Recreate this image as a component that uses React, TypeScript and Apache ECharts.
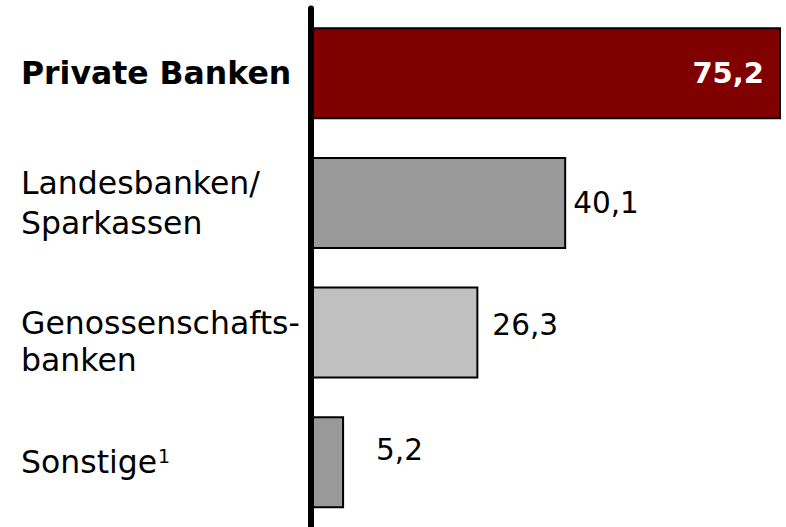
import React, { useEffect, useRef } from "react";
import * as echarts from "echarts";

const categories = [
  "Private Banken",
  "Landesbanken/\nSparkassen",
  "Genossenschafts-\nbanken",
  "Sonstige",
];
const footnoteMarks = ["", "", "", "1"];
const values = [75.2, 40.1, 26.3, 5.2];
const valueLabels = ["75,2", "40,1", "26,3", "5,2"];
const barColors = ["#800000", "#999999", "#c0c0c0", "#999999"];

export default function App() {
  const ref = useRef<HTMLDivElement>(null);
  useEffect(() => {
    if (!ref.current) return;
    const chart = echarts.init(ref.current, null, { renderer: "svg" });
    const labelDist = [0, 7, 14, 32];
    const labelOffsetY = [0, 0, -8, -12];
    const font = "DejaVu Sans";
    chart.setOption({
      animation: false,
      grid: { left: 311, right: 6, top: 8.5, height: 521, containLabel: false },
      xAxis: {
        type: "value",
        min: 0,
        max: 73.7,
        show: false,
        splitLine: { show: false },
      },
      yAxis: {
        type: "category",
        inverse: true,
        data: categories,
        z: 10,
        axisLine: { show: true, lineStyle: { color: "#000", width: 6 } },
        axisTick: { show: false },
        axisLabel: {
          align: "left",
          margin: 290,
          fontFamily: font,
          fontSize: 31.5,
          color: "#000",
          lineHeight: 40,
          formatter: (v: string, i: number) => {
            if (i === 0) return `{b|${v}}`;
            const lines = v.split("\n");
            if (i === 2) return `{sp| }\n` + lines.map((l) => `{g|${l}}`).join("\n");
            let s = lines.map((l) => `{n|${l}}`).join("\n");
            if (footnoteMarks[i]) s += `{s|${footnoteMarks[i]}}`;
            return s;
          },
          rich: {
            b: { fontWeight: "bold", fontSize: 31.5, fontFamily: font, color: "#000", lineHeight: 40 },
            n: { fontSize: 31.5, fontFamily: font, color: "#000", lineHeight: 40 },
            g: { fontSize: 31.5, fontFamily: font, color: "#000", lineHeight: 37 },
            sp: { fontSize: 2, fontFamily: font, color: "#fff", lineHeight: 18 },
            s: { fontSize: 19, fontFamily: font, color: "#000", lineHeight: 19, verticalAlign: "top", padding: [4, 0, 0, 1] },
          },
        },
      },
      series: [
        {
          type: "bar",
          barWidth: 92,
          clip: true,
          data: values.map((v, i) => ({
            value: v,
            itemStyle: { color: barColors[i], borderColor: "#000", borderWidth: 2 },
            label:
              i === 0
                ? {
                    show: true,
                    position: "insideRight",
                    distance: 17,
                    color: "#fff",
                    fontWeight: "bold",
                    fontSize: 29,
                    fontFamily: font,
                    formatter: valueLabels[i],
                  }
                : {
                    show: true,
                    position: "right",
                    distance: labelDist[i],
                    offset: [0, labelOffsetY[i]],
                    color: "#000",
                    fontSize: 29.5,
                    fontFamily: font,
                    formatter: valueLabels[i],
                  },
          })),
        },
      ],
    });
    return () => chart.dispose();
  }, []);
  return (
    <div
      ref={ref}
      style={{ position: "absolute", left: 0, top: 0, width: 786, height: 527, background: "#fff" }}
    />
  );
}
